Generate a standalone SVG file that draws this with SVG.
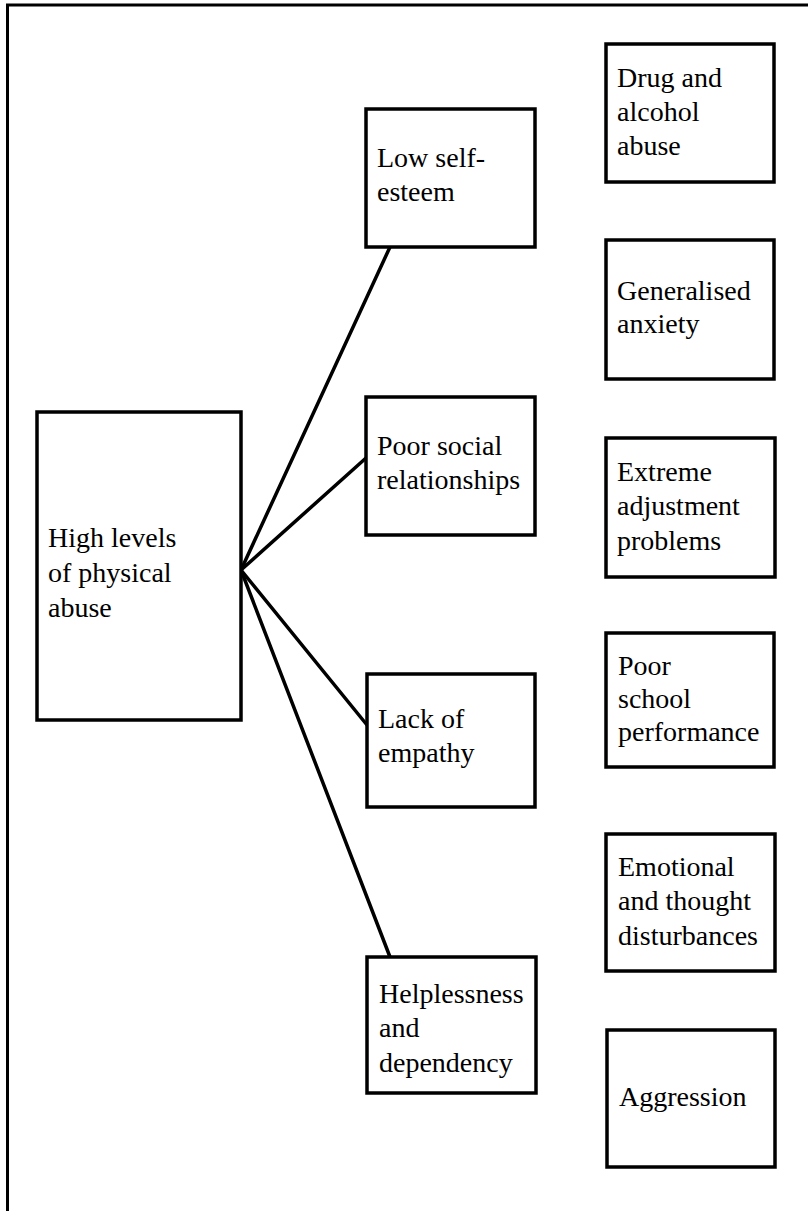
<svg xmlns="http://www.w3.org/2000/svg" width="808" height="1211" viewBox="0 0 808 1211">
<style>
.box{fill:#fff;stroke:#000;stroke-width:3.5}
.lbl{font-family:'Liberation Serif','Times New Roman','DejaVu Serif',serif;font-size:28px;fill:#000}
.con{stroke:#000;stroke-width:3.5;fill:none;stroke-linecap:round}
</style>
<rect x="0" y="0" width="808" height="1211" fill="#fff"/>
<g id="frame">
<path d="M7.5 1211 V5 H808" fill="none" stroke="#000" stroke-width="3"/>
</g>
<g id="connectors">
<line class="con" x1="241" y1="570" x2="390" y2="247"/>
<line class="con" x1="241" y1="570" x2="366" y2="458"/>
<line class="con" x1="241" y1="570" x2="367" y2="725"/>
<line class="con" x1="241" y1="570" x2="390" y2="957"/>
</g>
<g id="high-levels" font-family="Liberation Serif, serif">
<rect class="box" x="37" y="412" width="204" height="308"/>
<text class="lbl" x="48" y="547">High levels</text>
<text class="lbl" x="48" y="582">of physical</text>
<text class="lbl" x="48" y="617">abuse</text>
</g>
<g id="low-self-esteem">
<rect class="box" x="366" y="109" width="169" height="138"/>
<text class="lbl" x="377" y="167">Low self-</text>
<text class="lbl" x="377" y="201">esteem</text>
</g>
<g id="poor-social">
<rect class="box" x="366" y="397" width="169" height="138"/>
<text class="lbl" x="377" y="455">Poor social</text>
<text class="lbl" x="377" y="489">relationships</text>
</g>
<g id="lack-empathy">
<rect class="box" x="367" y="674" width="168" height="133"/>
<text class="lbl" x="378" y="728">Lack of</text>
<text class="lbl" x="378" y="762">empathy</text>
</g>
<g id="helplessness">
<rect class="box" x="367" y="957" width="169" height="136"/>
<text class="lbl" x="379" y="1003">Helplessness</text>
<text class="lbl" x="379" y="1037">and</text>
<text class="lbl" x="379" y="1072">dependency</text>
</g>
<g id="drug-alcohol">
<rect class="box" x="606" y="44" width="168" height="138"/>
<text class="lbl" x="617" y="87">Drug and</text>
<text class="lbl" x="617" y="121">alcohol</text>
<text class="lbl" x="617" y="155">abuse</text>
</g>
<g id="generalised-anxiety">
<rect class="box" x="606" y="240" width="168" height="139"/>
<text class="lbl" x="617" y="300">Generalised</text>
<text class="lbl" x="617" y="333">anxiety</text>
</g>
<g id="extreme-adjustment">
<rect class="box" x="606" y="438" width="169" height="139"/>
<text class="lbl" x="617" y="481">Extreme</text>
<text class="lbl" x="617" y="515">adjustment</text>
<text class="lbl" x="617" y="550">problems</text>
</g>
<g id="poor-school">
<rect class="box" x="606" y="633" width="168" height="134"/>
<text class="lbl" x="618" y="675">Poor</text>
<text class="lbl" x="618" y="708">school</text>
<text class="lbl" x="618" y="741">performance</text>
</g>
<g id="emotional-thought">
<rect class="box" x="606" y="834" width="169" height="137"/>
<text class="lbl" x="618" y="876">Emotional</text>
<text class="lbl" x="618" y="910">and thought</text>
<text class="lbl" x="618" y="945">disturbances</text>
</g>
<g id="aggression">
<rect class="box" x="607" y="1030" width="168" height="137"/>
<text class="lbl" x="619" y="1106">Aggression</text>
</g>
</svg>
